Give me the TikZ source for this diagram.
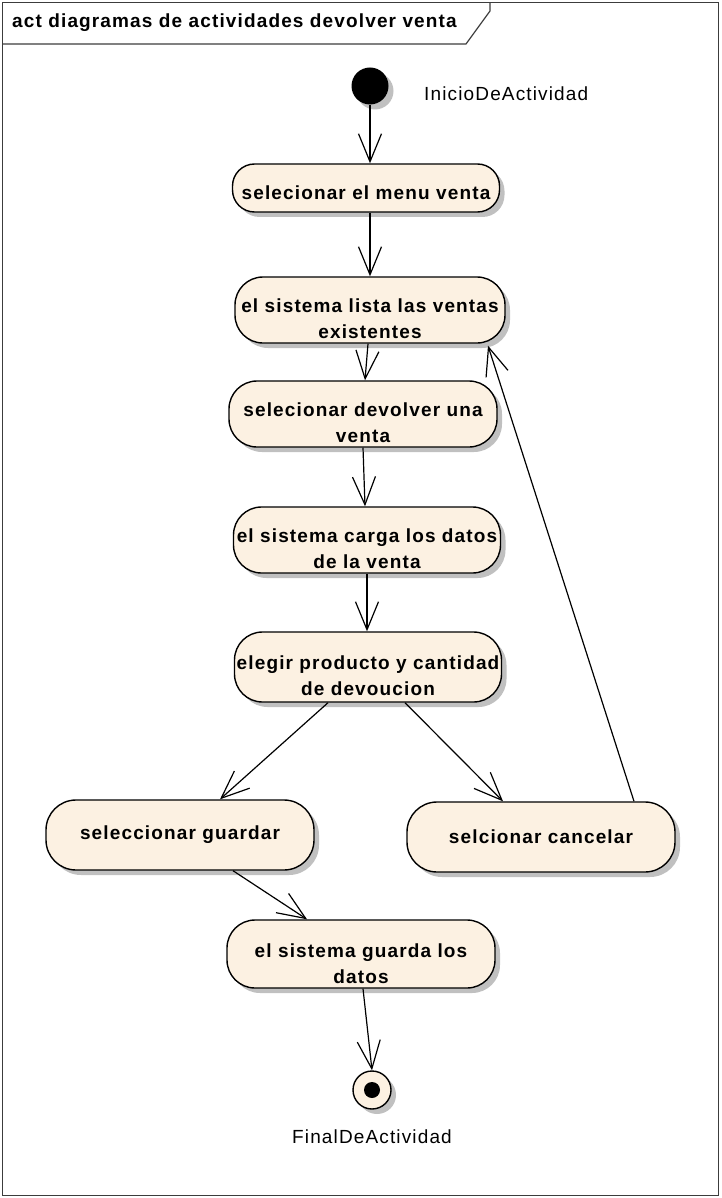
\documentclass[tikz,border=0pt]{standalone}
\usepackage{fontspec}
\setmainfont{Liberation Sans}
\newfontfamily\diafont[LetterSpace=6]{Liberation Sans}
\usetikzlibrary{arrows.meta,shadows}
\definecolor{actfill}{RGB}{252,241,226}
\definecolor{shadowgray}{RGB}{192,192,192}
\definecolor{framecol}{RGB}{60,60,60}
\newcommand{\lowtext}[2][10pt]{\raisebox{-#1}[\height][\depth]{\begin{tabular}{@{}c@{}}#2\end{tabular}}}
\begin{document}
\begin{tikzpicture}[x=1pt,y=-1pt,
  boldtxt/.style={font=\diafont\fontsize{19}{26}\selectfont\bfseries},
  regtxt/.style={font=\diafont\fontsize{19}{24}\selectfont},
  shadowed/.style={drop shadow={shadow xshift=5pt,shadow yshift=-5pt,fill=shadowgray,opacity=1}},
  act/.style={boldtxt,draw=black,line width=1.4pt,fill=actfill,shadowed,inner sep=0pt,
    minimum width=267,minimum height=66,rounded corners=28},
  flow/.style={draw=black,line width=1.2pt,-{Straight Barb[length=28pt,width=23pt,line width=1.2pt]}}
]
\useasboundingbox (0,0) rectangle (721,1198);
% frame
\draw[framecol,line width=1.2pt] (2.5,2.5) rectangle (718.5,1195.5);
\draw[framecol,line width=1.2pt] (2.5,44) -- (466,44) -- (490,11) -- (490,2.5);
\node[boldtxt,anchor=west,inner sep=0pt] (title) at (12,23) {act diagramas de actividades devolver venta};

% initial and final
\node[circle,fill=black,minimum size=37,inner sep=0pt,shadowed] (start) at (370,86) {};
\node[regtxt,anchor=west,inner sep=0pt] (startlbl) at (424,94) {InicioDeActividad};

\node[act,minimum height=48,rounded corners=22] (n1) at (366,188) {\lowtext[6pt]{selecionar el menu venta}};
\node[act,minimum width=270] (n2) at (370,310) {\lowtext{el sistema lista las ventas\\existentes}};
\node[act,minimum width=268] (n3) at (363,414) {\lowtext{selecionar devolver una\\venta}};
\node[act] (n4) at (367,540) {\lowtext{el sistema carga los datos\\de la venta}};
\node[act,minimum height=70] (n5) at (368,667) {\lowtext{elegir producto y cantidad\\de devoucion}};
\node[act,minimum width=268,minimum height=70,rounded corners=30] (n6) at (180,835) {seleccionar guardar};
\node[act,minimum width=268,minimum height=70,rounded corners=30] (n7) at (541,837) {selcionar cancelar};
\node[act,minimum width=268,minimum height=68] (n8) at (361,954) {\lowtext[11pt]{el sistema guarda los\\datos}};

\node[circle,draw=black,line width=1.4pt,fill=actfill,minimum size=38,inner sep=0pt,shadowed] (end) at (372,1090) {};
\node[circle,fill=black,minimum size=16,inner sep=0pt] (enddot) at (end.center) {};
\node[regtxt,inner sep=0pt] (endlbl) at (372,1137) {FinalDeActividad};

% flows
\draw[flow] (start.south) -- (start.south |- n1.north);
\draw[flow] ([xshift=4pt]n1.south) -- (n2.north);
\draw[flow] ([xshift=-2pt]n2.south) -- ([xshift=2pt]n3.north);
\draw[flow] (n3.south) -- ([xshift=-2pt]n4.north);
\draw[flow] (n4.south) -- ([xshift=-1pt]n5.north);
\draw[flow] ([xshift=-40pt]n5.south) -- ([xshift=40pt]n6.north);
\draw[flow] ([xshift=37pt]n5.south) -- ([xshift=-38pt]n7.north);
\draw[flow] ([xshift=93pt]n7.north) -- ([xshift=118pt,yshift=-2pt]n2.south);
\draw[flow] ([xshift=53pt]n6.south) -- ([xshift=-54pt]n8.north);
\draw[flow] ([xshift=2pt]n8.south) -- (end.north);
\end{tikzpicture}
\end{document}
